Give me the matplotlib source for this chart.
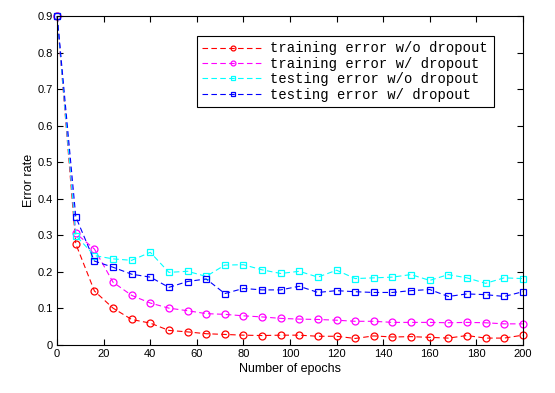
import numpy as np
import matplotlib
matplotlib.use("Agg")
import matplotlib.pyplot as plt

epochs = list(range(0, 201, 8))

train_no_dropout = [0.9, 0.276, 0.147, 0.100, 0.069, 0.059, 0.039, 0.035, 0.030, 0.028,
                    0.026, 0.025, 0.026, 0.026, 0.023, 0.023, 0.017, 0.024, 0.021, 0.022,
                    0.020, 0.018, 0.025, 0.018, 0.018, 0.026]
train_dropout = [0.9, 0.305, 0.262, 0.171, 0.135, 0.114, 0.100, 0.093, 0.085, 0.083,
                 0.079, 0.076, 0.072, 0.070, 0.069, 0.067, 0.064, 0.064, 0.061, 0.061,
                 0.061, 0.060, 0.061, 0.060, 0.057, 0.057]
test_no_dropout = [0.9, 0.299, 0.244, 0.235, 0.231, 0.253, 0.198, 0.201, 0.187, 0.218,
                   0.219, 0.205, 0.195, 0.201, 0.185, 0.204, 0.181, 0.183, 0.185, 0.192,
                   0.176, 0.192, 0.183, 0.168, 0.183, 0.181]
test_dropout = [0.9, 0.350, 0.229, 0.212, 0.193, 0.185, 0.157, 0.173, 0.180, 0.140,
                0.154, 0.150, 0.150, 0.160, 0.143, 0.148, 0.145, 0.143, 0.143, 0.148,
                0.151, 0.132, 0.139, 0.137, 0.132, 0.145]

labels = ["training error w/o dropout", "training error w/ dropout",
          "testing error w/o dropout", "testing error w/ dropout"]

plt.rcParams['font.family'] = ['Liberation Sans', 'DejaVu Sans']

fig = plt.figure(figsize=(5.55, 3.93), dpi=100)
ax = fig.add_axes([0.103, 0.123, 0.839, 0.836])

series = [train_no_dropout, train_dropout, test_no_dropout, test_dropout]
colors = ['#ff0000', '#ff00ff', '#00ffff', '#0000ff']
markers = ['o', 'o', 's', 's']
for vals, c, m, lab in zip(series, colors, markers, labels):
    ax.plot(epochs, vals, color=c, linestyle=(0, (5, 3)), linewidth=0.8,
            marker=m, markersize=5, markerfacecolor='none', markeredgecolor=c,
            markeredgewidth=0.9, label=lab, clip_on=False)

ax.set_xlim(0, 200)
ax.set_ylim(0, 0.9)
ax.set_xticks(range(0, 201, 20))
ax.set_yticks(np.arange(0, 0.91, 0.1))
ax.set_yticklabels(['0', '0.1', '0.2', '0.3', '0.4', '0.5', '0.6', '0.7', '0.8', '0.9'])
ax.tick_params(direction='in', length=4, labelsize=8, top=True, right=True, pad=3)
ax.tick_params(axis='x', labeltop=False)
for sp in ax.spines.values():
    sp.set_linewidth(0.8)

ax.set_xlabel("Number of epochs", fontsize=9, labelpad=3)
ax.set_ylabel("Error rate", fontsize=9, labelpad=2)

# legend box placed like the matlab one, left edge fixed
leg = ax.legend(loc='upper left', bbox_to_anchor=(0.30, 0.94),
                prop={'family': 'Liberation Mono', 'size': 10},
                fancybox=False, framealpha=1, edgecolor='black',
                handlelength=4.4, handletextpad=0.5, borderpad=0.4,
                labelspacing=0.1, markerscale=0.7, borderaxespad=0)
leg.get_frame().set_linewidth(0.8)

fig.savefig("out.png", dpi=100)
